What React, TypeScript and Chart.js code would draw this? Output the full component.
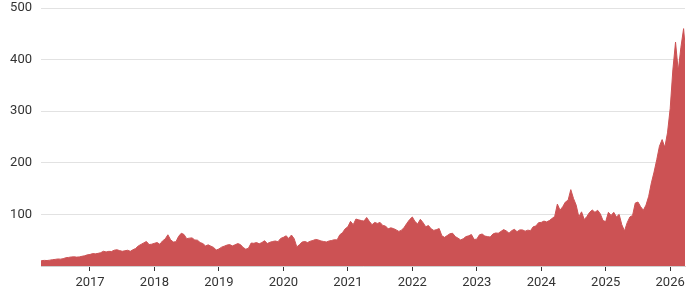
import React, { useEffect, useRef } from "react";
import { Chart, registerables } from "chart.js";

Chart.register(...registerables);

// Semi-monthly closing prices (1st and 15th of each month)
// 2016 starts at mid-March
const prices2016 = [10.0, 10.4, 10.9, 10.6, 11.3, 12.2, 12.8, 13.6, 13.3, 14.2, 16.0, 16.6, 17.5, 17.8, 17.2, 17.6, 18.8, 19.8, 21.6];
const prices2017 = [22.3, 24.1, 23.5, 24.5, 25.8, 28.6, 27.2, 28.4, 28.1, 30.6, 31.5, 29.9, 28.5, 29.5, 30.5, 28.5, 31.5, 34.0, 39.0, 41.8, 44.8, 47.5, 41.6, 42.3];
const prices2018 = [44.0, 45.5, 42.0, 48.5, 52.5, 60.5, 51.0, 46.5, 47.0, 57.5, 63.5, 61.0, 53.0, 54.0, 54.5, 50.5, 50.0, 45.5, 43.5, 39.0, 41.0, 38.5, 36.0, 31.0];
const prices2019 = [33.0, 36.5, 38.5, 40.5, 41.5, 39.0, 41.0, 43.5, 41.5, 36.0, 32.5, 34.5, 44.5, 44.0, 45.5, 43.0, 45.5, 49.0, 43.5, 46.0, 47.5, 48.5, 47.0, 53.5];
const prices2020 = [55.5, 58.5, 53.5, 60.0, 53.0, 37.0, 41.5, 46.5, 47.5, 45.5, 48.0, 49.5, 51.5, 50.5, 48.5, 47.5, 46.5, 48.5, 49.5, 51.0, 50.5, 60.5, 64.5, 72.0];
const prices2021 = [76.0, 86.5, 80.0, 91.0, 89.5, 88.0, 87.0, 94.0, 86.5, 80.0, 84.5, 82.5, 84.5, 78.5, 77.5, 72.0, 74.0, 72.5, 70.0, 67.0, 69.5, 75.0, 83.0, 90.0];
const prices2022 = [95.0, 86.0, 81.5, 90.5, 84.0, 76.0, 78.5, 72.0, 69.0, 70.5, 72.5, 58.5, 55.5, 59.0, 62.5, 63.5, 57.0, 54.0, 50.5, 53.0, 57.0, 58.5, 61.0, 51.5];
const prices2023 = [52.0, 60.5, 62.0, 58.0, 57.0, 56.0, 62.0, 64.0, 63.5, 67.0, 70.5, 68.0, 63.5, 68.5, 71.0, 66.5, 70.0, 70.0, 67.5, 69.5, 68.5, 76.0, 77.5, 84.0];
const prices2024 = [84.5, 87.0, 85.5, 88.0, 92.0, 96.0, 120.0, 108.0, 115.0, 124.0, 127.5, 148.0, 131.0, 118.0, 95.0, 105.0, 90.0, 96.0, 104.0, 108.5, 104.0, 108.0, 101.0, 88.0];
const prices2025 = [86.0, 104.0, 98.0, 104.0, 95.0, 100.0, 80.0, 68.0, 84.0, 95.0, 98.0, 122.0, 124.0, 115.0, 108.0, 118.0, 135.0, 161.0, 182.0, 206.0, 232.0, 245.0, 230.0, 258.0];
// 2026 Jan–Apr
const prices2026 = [305.0, 380.0, 434.0, 378.0, 424.0, 460.0, 400.0];

const seriesByYear: [number, number, number[]][] = [
  [2016, 5, prices2016],
  [2017, 0, prices2017],
  [2018, 0, prices2018],
  [2019, 0, prices2019],
  [2020, 0, prices2020],
  [2021, 0, prices2021],
  [2022, 0, prices2022],
  [2023, 0, prices2023],
  [2024, 0, prices2024],
  [2025, 0, prices2025],
  [2026, 0, prices2026],
];

const yearTicks = [2017, 2018, 2019, 2020, 2021, 2022, 2023, 2024, 2025, 2026];
const xMin = 2016.24;
const xMax = 2026.23;

export default function App() {
  const ref = useRef<HTMLCanvasElement | null>(null);

  useEffect(() => {
    if (!ref.current) return;
    const points: { x: number; y: number }[] = [];
    seriesByYear.forEach(([year, start, vals]) => {
      vals.forEach((v, i) => points.push({ x: year + (start + i) / 24, y: v }));
    });

    const font = { family: "Roboto, 'Noto Sans', sans-serif", size: 13 };
    const chart = new Chart(ref.current, {
      type: "line",
      data: {
        datasets: [
          {
            data: points,
            borderColor: "#cc5254",
            backgroundColor: "#cc5254",
            borderWidth: 1,
            pointRadius: 0,
            fill: "origin",
            tension: 0,
          },
        ],
      },
      options: {
        animation: false,
        responsive: true,
        maintainAspectRatio: false,
        layout: { padding: { left: 0, right: 15, top: 8, bottom: 0 } },
        plugins: { legend: { display: false }, tooltip: { enabled: false } },
        scales: {
          x: {
            type: "linear",
            min: xMin,
            max: xMax,
            afterBuildTicks: (scale: any) => {
              scale.ticks = yearTicks.map((v) => ({ value: v }));
            },
            afterFit: (scale: any) => {
              scale.height = 34;
              scale.paddingLeft = 0;
              scale.paddingRight = 0;
            },
            ticks: {
              autoSkip: false,
              maxRotation: 0,
              padding: 4,
              color: "#333",
              font,
              callback: (v: any) => String(v),
            },
            grid: {
              drawOnChartArea: false,
              drawTicks: true,
              tickLength: 5,
              color: "#333",
            },
            border: { display: true, color: "#d0d0d0" },
          },
          y: {
            min: 0,
            max: 500,
            afterFit: (scale: any) => {
              scale.width = 41;
              scale.paddingTop = 0;
              scale.paddingBottom = 0;
            },
            ticks: {
              stepSize: 100,
              padding: 9,
              color: "#333",
              font,
              callback: (v: any) => (v === 0 ? "" : String(v)),
            },
            grid: { color: "#e2e2e2", drawTicks: false },
            border: { display: false },
          },
        },
      },
    });
    return () => chart.destroy();
  }, []);

  return (
    <div style={{ position: "fixed", left: 0, top: 0, width: 700, height: 300 }}>
      <canvas ref={ref} />
    </div>
  );
}
